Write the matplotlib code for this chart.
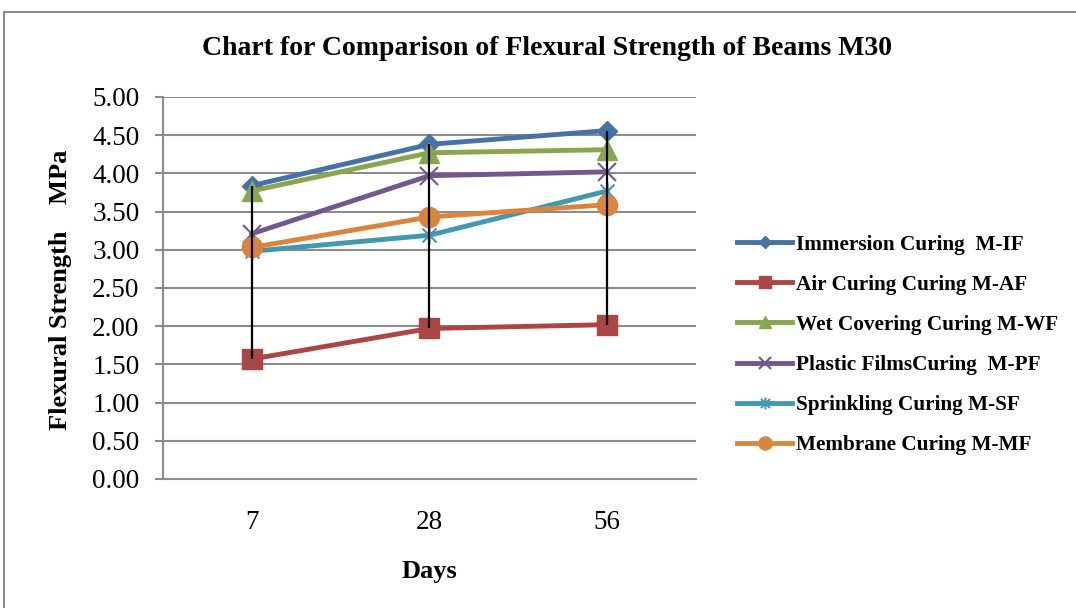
import matplotlib.pyplot as plt
from matplotlib.patches import Rectangle
from matplotlib.path import Path

days = ["7", "28", "56"]
immersion = [3.84, 4.38, 4.56]
air = [1.57, 1.97, 2.02]
wet_covering = [3.77, 4.27, 4.31]
plastic_film = [3.21, 3.97, 4.02]
sprinkling = [2.98, 3.19, 3.77]
membrane = [3.03, 3.43, 3.59]

labels = ["Immersion Curing  M-IF", "Air Curing Curing M-AF", "Wet Covering Curing M-WF",
          "Plastic FilmsCuring  M-PF", "Sprinkling Curing M-SF", "Membrane Curing M-MF"]
y_ticks = [0.0, 0.5, 1.0, 1.5, 2.0, 2.5, 3.0, 3.5, 4.0, 4.5, 5.0]

# excel style star: an x with a vertical bar through it
star = Path([(-1, -1), (1, 1), (-1, 1), (1, -1), (0, -1.3), (0, 1.3)],
            [Path.MOVETO, Path.LINETO, Path.MOVETO, Path.LINETO, Path.MOVETO, Path.LINETO])

series = [immersion, air, wet_covering, plastic_film, sprinkling, membrane]
colors = ["#4572A7", "#AA4643", "#89A54E", "#71588F", "#4198AF", "#DB843D"]
markers = ["D", "s", "^", "x", star, "o"]
sizes = [10, 14, 14, 13, 13, 14.5]

plt.rcParams["font.family"] = ["Liberation Serif", "DejaVu Serif"]

fig = plt.figure(figsize=(10.76, 6.08), dpi=100)
fig.patches.append(Rectangle((0.004, -0.01), 1.1, 0.99, transform=fig.transFigure,
                             fill=False, edgecolor="#8c8c8c", linewidth=1.5))

ax = fig.add_axes([0.1515, 0.2122, 0.4953, 0.6283])
x = range(1, len(days) + 1)

# high-low lines
highs = [max(v) for v in zip(*series)]
lows = [min(v) for v in zip(*series)]
ax.vlines(list(x), lows, highs, color="black", linewidth=1.6, zorder=4)

for vals, lab, c, m, s in zip(series, labels, colors, markers, sizes):
    thin = isinstance(m, Path) or m == "x"
    ax.plot(list(x), vals, color=c, linewidth=3.5, marker=m, markersize=s,
            markeredgewidth=1.5 if thin else 1, markeredgecolor=c,
            markerfacecolor="none" if thin else c, label=lab, zorder=3)

ax.set_xlim(0.5, 3.5)
ax.set_ylim(0, 5)
ax.set_yticks(y_ticks)
ax.set_yticklabels([f"{t:.2f}" for t in y_ticks], fontsize=19.5)
ax.set_xticks(list(x))
ax.set_xticklabels(days, fontsize=19.5)
ax.tick_params(axis="x", length=0, pad=22)
ax.tick_params(axis="y", length=6, width=1.5, color="#8c8c8c", pad=11)
ax.grid(axis="y", color="#8c8c8c", linewidth=1.5)
ax.set_axisbelow(True)
for side in ("top", "right"):
    ax.spines[side].set_visible(False)
for side in ("left", "bottom"):
    ax.spines[side].set_color("#8c8c8c")
    ax.spines[side].set_linewidth(1.5)

ax.set_xlabel("Days", fontsize=19, fontweight="bold", va="center")
ax.xaxis.set_label_coords(0.5, -0.241)
ax.set_ylabel("Flexural Strength    MPa", fontsize=19, fontweight="bold", va="center")
ax.yaxis.set_label_coords(-0.193, 0.495)
fig.text(0.508, 0.921, "Chart for Comparison of Flexural Strength of Beams M30",
         ha="center", va="center", fontsize=20, fontweight="bold")

leg = fig.legend(loc="center left", bbox_to_anchor=(737 / 1076, 1 - 345 / 608), frameon=False,
                 prop={"weight": "bold", "size": 15.3}, handlelength=2.6, markerscale=0.65,
                 labelspacing=0.95, handletextpad=0.2, borderpad=0, borderaxespad=0)

fig.savefig("out.png", dpi=100)
